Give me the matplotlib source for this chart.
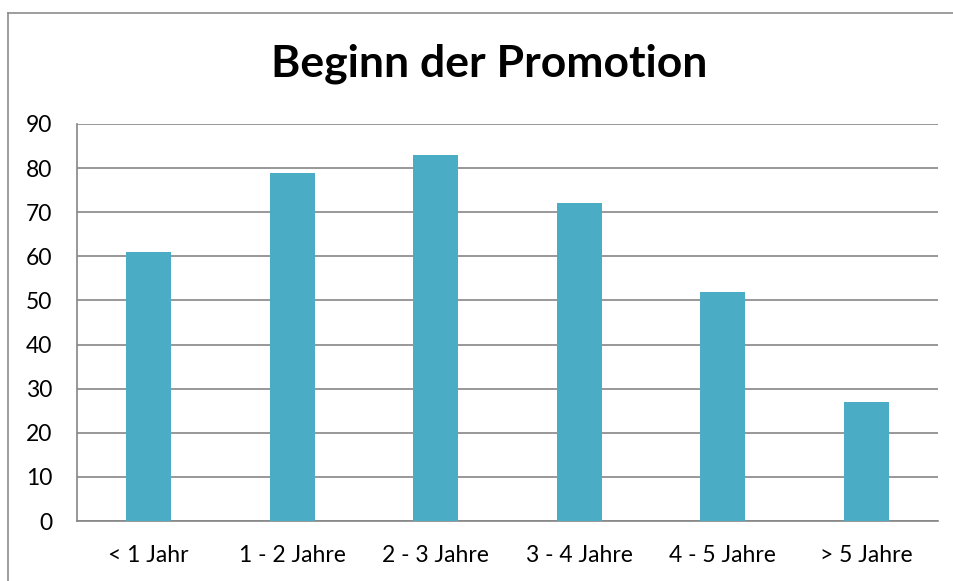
"""Beginn der Promotion - bar chart."""

import matplotlib

matplotlib.use("Agg")
import matplotlib.pyplot as plt
from matplotlib.lines import Line2D

categories = ["< 1 Jahr", "1 - 2 Jahre", "2 - 3 Jahre", "3 - 4 Jahre", "4 - 5 Jahre", "> 5 Jahre"]
values = [61, 79, 83, 72, 52, 27]
y_ticks = list(range(0, 91, 10))

W, H = 954, 581
BAR = "#4BACC6"
GRID = "#868686"

plt.rcParams["font.family"] = ["Lato", "DejaVu Sans"]

fig = plt.figure(figsize=(W / 100, H / 100), dpi=100)
ax = fig.add_axes([77 / W, 1 - 521 / H, (938 - 77) / W, (521 - 124) / H])

x = range(len(categories))
ax.bar(x, values, width=0.314, color=BAR, zorder=3)

ax.set_xlim(-0.5, len(categories) - 0.5)
ax.set_ylim(0, 90)
ax.set_yticks(y_ticks)
ax.set_xticks(list(x))
ax.set_xticklabels(categories)
ax.tick_params(axis="both", length=0, labelsize=16.5, colors="black")
ax.tick_params(axis="y", pad=18)
ax.tick_params(axis="x", pad=17)
ax.yaxis.grid(True, color=GRID, linewidth=1.2, zorder=0)

for side in ("top", "right"):
    ax.spines[side].set_visible(False)
for side in ("left", "bottom"):
    ax.spines[side].set_color(GRID)
    ax.spines[side].set_linewidth(1.2)

fig.text(489 / W, 1 - 64 / H, "Beginn der Promotion", ha="center", va="center",
         fontsize=32, fontweight="bold")

# outer chart frame: only left and top edges fall inside the picture
x0, y0 = 8.5 / W, 1 - 12.5 / H
fig.add_artist(Line2D([x0, x0], [-0.05, y0], transform=fig.transFigure,
                      color="#8c8c8c", linewidth=1.2))
fig.add_artist(Line2D([x0, 1.05], [y0, y0], transform=fig.transFigure,
                      color="#8c8c8c", linewidth=1.2))

fig.savefig("out.png", dpi=100)
